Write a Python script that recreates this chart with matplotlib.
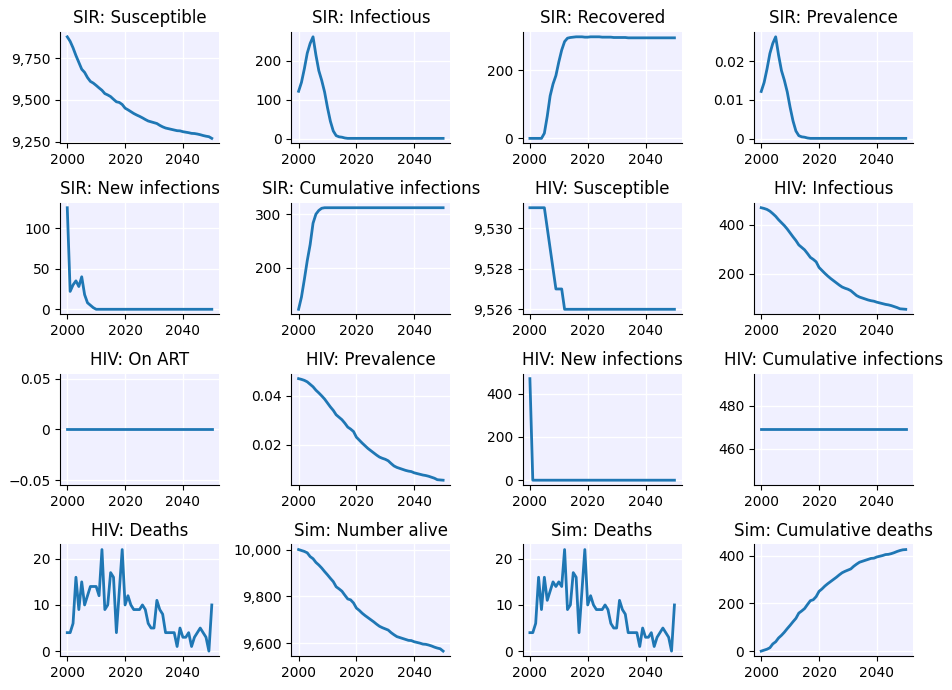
import matplotlib
matplotlib.use("Agg")
import matplotlib.pyplot as plt
import matplotlib.ticker as mticker

years = list(range(2000, 2051))

sir_susceptible = [9878, 9851, 9812, 9766, 9725, 9684, 9665, 9634, 9611, 9601,
                   9587, 9572, 9558, 9538, 9530, 9520, 9504, 9489, 9485, 9473,
                   9451, 9441, 9430, 9419, 9410, 9402, 9393, 9383, 9374, 9369,
                   9364, 9359, 9348, 9339, 9332, 9328, 9324, 9320, 9316, 9315,
                   9310, 9307, 9304, 9300, 9299, 9296, 9292, 9287, 9283, 9280, 9270]
sir_infectious = [122, 145, 180, 220, 245, 262, 215, 175, 150, 120,
                  80, 45, 20, 8, 5, 4, 2, 1, 1, 1] + [1] * 31
sir_recovered = [0, 0, 0, 0, 0, 15, 65, 125, 160, 185,
                 225, 260, 285, 295, 297, 298, 299, 299, 299, 298,
                 298, 299, 299, 299, 299, 298, 298, 298, 298, 297,
                 297, 297, 297, 297, 296, 296, 296, 296, 296, 296,
                 296, 296, 296, 296, 296, 296, 296, 296, 296, 296, 296]
sir_prevalence = [0.0122, 0.0145, 0.0180, 0.0220, 0.0246, 0.0263, 0.0216, 0.0176, 0.0151, 0.0121,
                  0.0081, 0.0046, 0.0020, 0.0008, 0.0005, 0.0004, 0.0002, 0.0001, 0.0001, 0.0001] + [0.0001] * 31
sir_new_inf = [125, 22, 30, 35, 28, 40, 18, 8, 5, 2, 0] + [0] * 40
sir_cum_inf = [122, 145, 178, 213, 243, 283, 300, 307, 311, 312] + [312] * 41

hiv_susceptible = [9531, 9531, 9531, 9531, 9531, 9531, 9530, 9529, 9528, 9527,
                   9527, 9527] + [9526] * 39
hiv_infectious = [469, 466, 462, 455, 445, 434, 420, 408, 396, 382,
                  366, 350, 335, 317, 307, 297, 282, 266, 258, 248,
                  225, 213, 201, 190, 180, 171, 162, 153, 145, 140,
                  136, 130, 120, 110, 104, 100, 96, 92, 89, 87,
                  83, 80, 77, 74, 72, 69, 65, 61, 56, 55, 54]
hiv_on_art = [0] * 51
hiv_prevalence = [0.0469, 0.0466, 0.0462, 0.0456, 0.0446, 0.0436, 0.0422, 0.0411, 0.0399, 0.0386,
                  0.0370, 0.0354, 0.0340, 0.0322, 0.0312, 0.0302, 0.0288, 0.0272, 0.0264, 0.0254,
                  0.0231, 0.0219, 0.0207, 0.0196, 0.0185, 0.0176, 0.0167, 0.0158, 0.0150, 0.0145,
                  0.0141, 0.0135, 0.0124, 0.0114, 0.0108, 0.0104, 0.0100, 0.0096, 0.0093, 0.0091,
                  0.0086, 0.0083, 0.0080, 0.0077, 0.0075, 0.0072, 0.0068, 0.0064, 0.0058, 0.0057, 0.0056]
hiv_new_inf = [469] + [0] * 50
hiv_cum_inf = [469] * 51
hiv_deaths = [4, 4, 6, 16, 9, 15, 10, 12, 14, 14,
              14, 12, 22, 9, 10, 17, 16, 4, 13, 22,
              10, 12, 10, 9, 9, 9, 10, 9, 6, 5,
              5, 11, 9, 8, 4, 4, 4, 4, 1, 5,
              3, 3, 4, 1, 3, 4, 5, 4, 3, 0, 10]

n_alive = [10000, 9996, 9992, 9986, 9970, 9961, 9945, 9934, 9921, 9906,
           9892, 9877, 9863, 9841, 9832, 9822, 9805, 9789, 9785, 9772,
           9750, 9740, 9728, 9718, 9709, 9700, 9691, 9681, 9672, 9666,
           9661, 9656, 9645, 9636, 9628, 9624, 9620, 9616, 9612, 9611,
           9606, 9603, 9600, 9596, 9595, 9592, 9588, 9583, 9579, 9576, 9566]
sim_deaths = [4, 4, 6, 16, 9, 16, 11, 13, 15, 14,
              15, 14, 22, 9, 10, 17, 16, 4, 13, 22,
              10, 12, 10, 9, 9, 9, 10, 9, 6, 5,
              5, 11, 9, 8, 4, 4, 4, 4, 1, 5,
              3, 3, 4, 1, 3, 4, 5, 4, 3, 0, 10]
cum_deaths = [0, 4, 8, 14, 30, 39, 55, 66, 79, 94,
              108, 123, 137, 159, 168, 178, 195, 211, 215, 228,
              250, 260, 272, 282, 291, 300, 309, 319, 328, 334,
              339, 344, 355, 364, 372, 376, 380, 384, 388, 389,
              394, 397, 400, 404, 405, 408, 412, 417, 421, 424, 425]

titles = ["SIR: Susceptible", "SIR: Infectious", "SIR: Recovered", "SIR: Prevalence",
          "SIR: New infections", "SIR: Cumulative infections", "HIV: Susceptible", "HIV: Infectious",
          "HIV: On ART", "HIV: Prevalence", "HIV: New infections", "HIV: Cumulative infections",
          "HIV: Deaths", "Sim: Number alive", "Sim: Deaths", "Sim: Cumulative deaths"]
series = [sir_susceptible, sir_infectious, sir_recovered, sir_prevalence,
          sir_new_inf, sir_cum_inf, hiv_susceptible, hiv_infectious,
          hiv_on_art, hiv_prevalence, hiv_new_inf, hiv_cum_inf,
          hiv_deaths, n_alive, sim_deaths, cum_deaths]

# panels where the reference uses a coarser tick step
ytick_steps = {0: 250, 2: 200}

fig, axes = plt.subplots(4, 4, figsize=(9.53, 6.9), dpi=100)

for i, (ax, title, vals) in enumerate(zip(axes.flat, titles, series)):
    ax.set_facecolor("#f0f0ff")
    ax.plot(years, vals, color="#1f77b4", lw=2)
    ax.set_title(title)
    ax.grid(True, color="white", lw=1)
    ax.set_axisbelow(True)
    ax.spines["top"].set_visible(False)
    ax.spines["right"].set_visible(False)
    if i in ytick_steps:
        ax.yaxis.set_major_locator(mticker.MultipleLocator(ytick_steps[i]))
    ax.yaxis.set_major_formatter(mticker.StrMethodFormatter("{x:,g}"))
    ax.set_xticks([2000, 2020, 2040])

fig.subplots_adjust(left=0.063, right=0.958, top=0.954, bottom=0.049,
                    wspace=0.455, hspace=0.53)
fig.savefig("out.png")
